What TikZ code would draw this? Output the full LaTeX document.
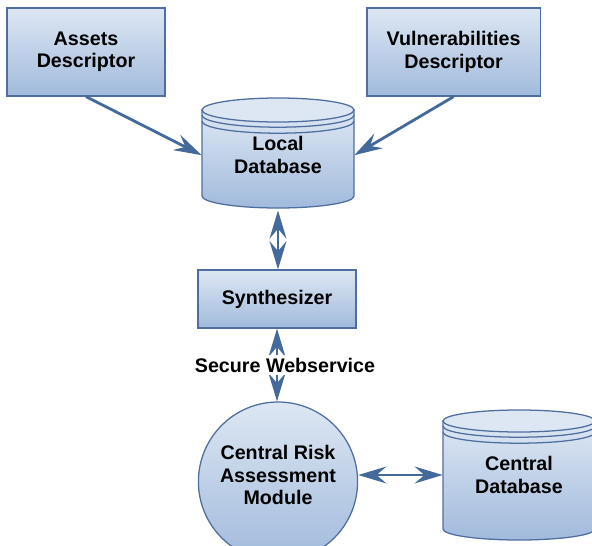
\documentclass[tikz,border=0pt]{standalone}
\usepackage{fontspec}
\setmainfont{Liberation Sans}
\usetikzlibrary{arrows.meta,positioning,calc}

\definecolor{edgeblue}{HTML}{4F6EA0}
\definecolor{arrowblue}{HTML}{44699B}
\definecolor{filltop}{HTML}{DDE7F3}
\definecolor{fillbot}{HTML}{A1BADC}

% drum outline: centre x, top y, bottom y, x radius, y radius
\newcommand{\drumbody}[5]{%
  \draw[edgeblue, line width=0.9pt, top color=filltop, bottom color=fillbot]
    (#1-#4,#2-#5) -- (#1-#4,#3+#5)
    arc[start angle=180, end angle=360, x radius=#4, y radius=#5]
    -- (#1+#4,#2-#5) -- cycle;
  \draw[edgeblue, line width=0.9pt, fill=filltop] (#1,#2-#5) ellipse [x radius=#4, y radius=#5];
  \draw[edgeblue, line width=0.9pt] (#1-#4,#2-#5-0.13)
    arc[start angle=180, end angle=360, x radius=#4, y radius=#5];
  \draw[edgeblue, line width=0.9pt] (#1-#4,#2-#5-0.28)
    arc[start angle=180, end angle=360, x radius=#4, y radius=#5];
}

\begin{document}
\begin{tikzpicture}
    [font=\fontsize{14}{16}\selectfont\bfseries,
    box/.style={draw=edgeblue, line width=0.9pt, top color=filltop, bottom color=fillbot, align=center},
    module/.style={circle, draw=edgeblue, line width=0.9pt, top color=filltop, bottom color=fillbot, minimum size=3.98cm, inner sep=0pt},
    drumtext/.style={align=center, minimum width=3.8cm},
    tip/.tip={Stealth[length=20pt,width=12pt,inset=7pt]},
    flow/.style={arrowblue, line width=2pt, -tip},
    biflow/.style={arrowblue, line width=2pt, tip-tip}]

    \useasboundingbox (0,0) rectangle (14.8,-13.65);

    % descriptors
    \node[box, minimum width=3.95cm, minimum height=2.2cm] (assets) at (2.15,-1.3) {Assets\\Descriptor};
    \node[box, minimum width=4.33cm, minimum height=2.2cm] (vuln) at (11.34,-1.3) {Vulnerabilities\\Descriptor};

    % local store
    \drumbody{6.95}{-2.45}{-5.2}{1.9}{0.3}
    \node[drumtext, minimum height=2.75cm] (localdb) at (6.95,-3.88) {Local\\Database};

    \node[box, minimum width=3.95cm, minimum height=1.45cm] (synth) at (6.925,-7.475) {Synthesizer};

    % central side
    \node[module] (crm) at (6.95,-12.04) {};
    \node[align=center] (crmtext) at ([yshift=0.16cm]crm.center) {Central Risk\\Assessment\\Module};
    \drumbody{12.975}{-10.25}{-13.5}{1.9}{0.275}
    \node[drumtext, minimum height=3.25cm] (centraldb) at (12.975,-11.875) {Central\\Database};

    \draw[flow] (assets.south) -- (localdb.west);
    \draw[flow] (vuln.south) -- (localdb.east);
    \draw[biflow] (localdb.south) -- (localdb.south |- synth.north);
    \draw[biflow] (synth.south) -- node[fill=white, text=black, inner sep=2pt, xshift=0.2cm] (ws) {Secure Webservice} (synth.south |- crm.north);
    \draw[biflow] (crm.east |- centraldb.west) -- (centraldb.west);
\end{tikzpicture}
\end{document}
